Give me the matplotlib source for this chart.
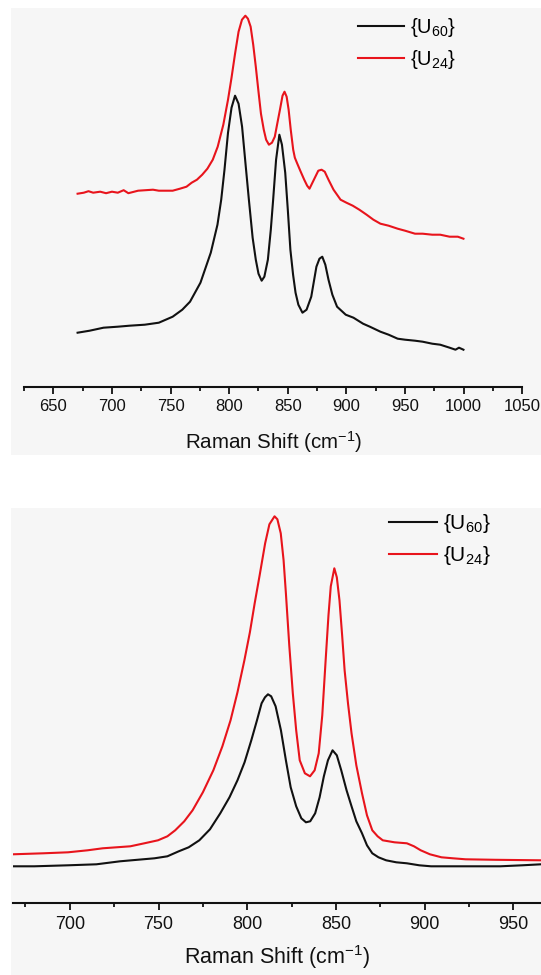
import matplotlib
matplotlib.use("Agg")
import matplotlib.pyplot as plt
from matplotlib.patches import Rectangle
from matplotlib.ticker import MultipleLocator

plt.rcParams['font.family'] = ['Liberation Sans', 'DejaVu Sans']
plt.rcParams['mathtext.fontset'] = 'custom'
plt.rcParams['mathtext.rm'] = 'Liberation Sans'
plt.rcParams['mathtext.it'] = 'Liberation Sans:italic'
plt.rcParams['mathtext.bf'] = 'Liberation Sans:bold'
plt.rcParams['mathtext.default'] = 'regular'

# ---------------- data: top panel ----------------
top_u60_x = [670.7, 681, 692.8, 705, 715, 728, 740, 751.8, 760, 766.6, 775.5, 784.3, 790, 793.2, 796, 799,
             802, 805, 808, 811, 814, 816.8, 820, 822.7, 825, 827.7, 830, 833, 835.5, 837.5, 840, 842.8,
             845, 847.8, 850, 852.2, 854.5, 856.6, 859, 862.5, 866, 870, 874.4, 877, 879.4, 882, 884.7,
             888, 892, 899.4, 906, 914.2, 920, 929, 936, 943.7, 950, 958.5, 965, 973.2, 980, 988, 993,
             996, 999.8]
top_u60_y = [54, 56, 59, 60, 61, 62, 64, 70, 77, 85, 104, 134, 162, 187, 217, 254,
             279, 291, 283, 260, 222, 187, 149, 127, 113, 106, 110, 127, 157, 187, 227, 252,
             242, 214, 177, 137, 112, 94, 82, 74, 77, 90, 120, 128, 130, 122, 107,
             92, 80, 72, 69, 63, 60, 55, 52, 48, 47, 46, 45, 43, 42, 39, 37,
             39, 37]

top_u24_x = [670.7, 676, 680, 684, 690, 695, 700, 705, 710, 714, 722.3, 735, 740, 751.8, 758, 763.6,
             768, 772.5, 777, 781.4, 786, 790.2, 795, 799, 802, 805, 808, 810.9, 813.8, 816, 818.3,
             820.5, 822.7, 825, 827.1, 829.5, 831.5, 833.9, 836.5, 838.9, 841, 843.3, 845.5, 847.2,
             849, 850.7, 852.5, 854.6, 856, 858.1, 861, 864, 866.5, 868.5, 871, 873.5, 876, 878.8,
             881.5, 884.7, 889, 895, 900, 905.4, 911, 917.2, 923, 929, 936, 943.7, 950, 958.5, 965,
             973.2, 980, 988, 995, 999.8]
top_u24_y = [193, 194, 195.5, 194, 195, 193.5, 195, 194, 196.5, 193.5, 196, 197, 196, 196, 198, 200,
             204, 207, 212, 218, 227, 240, 262, 287, 309, 333, 355, 367, 371, 368, 360,
             342, 320, 295, 273, 257, 247, 242, 244, 250, 263, 277, 291, 295,
             290, 277, 257, 237, 229, 223, 215, 207, 201, 198, 204, 210, 216, 217,
             215, 207, 197, 187, 184, 181, 177, 172, 167, 163, 161, 158, 156, 153, 153,
             152, 152, 150, 150, 148]

# ---------------- data: bottom panel ----------------
bot_u60_x = [667.8, 680, 699, 715, 728.3, 747.7, 755, 761.4, 767, 773, 779, 784.8, 790, 794.5, 798.5,
             802.3, 805.5, 808.1, 810, 811.7, 813.5, 816, 819, 821.8, 824.5, 827.6, 830.5, 833.1,
             835.5, 838.3, 840.8, 843.2, 845.5, 848.1, 850.5, 853, 856, 858.8, 861.5, 864.7, 867.5,
             870.5, 874, 878.3, 884, 890, 897, 903.6, 913, 923.1, 933, 942.6, 955, 965.6]
bot_u60_y = [37, 37, 38, 39, 42, 45, 47, 52, 56, 63, 74, 90, 106, 123, 141,
             163, 183, 200, 206, 209, 207, 197, 173, 143, 116, 97, 85, 81,
             82, 90, 106, 127, 143, 153, 148, 133, 113, 97, 82, 70, 58,
             50, 46, 43, 41, 40, 38, 37, 37, 37, 37, 37, 38, 39]

bot_u24_x = [667.8, 685, 699, 710, 718.5, 734.1, 742, 749.7, 755, 759.4, 764.5, 769.2, 775, 780.9, 786,
             790.6, 794.5, 798.4, 801.5, 804.2, 807, 810.1, 812.5, 815.4, 817, 818.9, 820.5, 821.8,
             823.7, 825.7, 827.6, 829.6, 832.5, 835.4, 838, 840.3, 842.3, 844.2, 845.8, 847.1, 849.1,
             850.5, 852, 853.5, 854.9, 856.8, 858.8, 861.5, 864.7, 867.5, 870.5, 873.5, 876.4, 883,
             890, 894, 897.8, 903, 909.5, 916, 923.1, 940, 965.6]
bot_u24_y = [49, 50, 51, 53, 55, 57, 60, 63, 67, 73, 82, 93, 111, 133, 157,
             183, 211, 243, 271, 300, 328, 360, 379, 387, 384, 370, 343, 310,
             258, 210, 173, 143, 130, 127, 133, 150, 188, 243, 288, 317, 335,
             326, 303, 268, 233, 200, 170, 138, 110, 88, 73, 67, 63, 61,
             60, 57, 53, 49, 46, 45, 44, 43.5, 43]

labels = ['{U$_{60}$}', '{U$_{24}$}']
top_ticks = [650, 700, 750, 800, 850, 900, 950, 1000, 1050]
bot_ticks = [700, 750, 800, 850, 900, 950]
xlabel = 'Raman Shift (cm$^{-1}$)'

BLACK = '#111111'
RED = '#e8141c'
BG = '#f6f6f6'

W, H = 541, 975
fig = plt.figure(figsize=(W / 100, H / 100), dpi=100, facecolor='white')

def px_rect(x0, y0, x1, y1):
    return (x0 / W, 1 - y1 / H, (x1 - x0) / W, (y1 - y0) / H)

# panel backgrounds
for (x0, y0, x1, y1) in [(11, 8, 541, 455), (11, 508, 541, 975)]:
    l, b, w, h = px_rect(x0, y0, x1, y1)
    fig.patches.append(Rectangle((l, b), w, h, transform=fig.transFigure,
                                 facecolor=BG, edgecolor='none', zorder=-10))

def style(ax, xlim, ylim, ticks, legend_anchor, tsize, lsize, gsize, labelpad):
    ax.set_facecolor('none')
    ax.set_xlim(*xlim)
    ax.set_ylim(*ylim)
    for s in ['top', 'right', 'left']:
        ax.spines[s].set_visible(False)
    ax.spines['bottom'].set_linewidth(1.5)
    ax.spines['bottom'].set_color('#111111')
    ax.set_yticks([])
    ax.set_xticks(ticks)
    ax.xaxis.set_minor_locator(MultipleLocator(25))
    ax.tick_params(axis='x', which='major', direction='out', length=5, width=1.3,
                   labelsize=tsize, pad=4, colors='#111111')
    ax.tick_params(axis='x', which='minor', direction='out', length=3, width=1.3,
                   colors='#111111')
    ax.set_xlabel(xlabel, fontsize=lsize, labelpad=labelpad, color='#111111')
    ax.legend(loc='upper left', bbox_to_anchor=legend_anchor,
              bbox_transform=fig.transFigure, frameon=False, fontsize=gsize,
              borderpad=0, borderaxespad=0, handlelength=2.3, handletextpad=0.3,
              labelspacing=0.45)

# top panel
ax1 = fig.add_axes(px_rect(24, 8, 522.3, 386.7))
ax1.plot(top_u60_x, top_u60_y, color=BLACK, lw=1.5, label=labels[0])
ax1.plot(top_u24_x, top_u24_y, color=RED, lw=1.5, label=labels[1])
style(ax1, (625, 1050), (0, 378.7), top_ticks, (358 / W, 1 - 16 / H),
      12, 14.8, 14.5, 10.5)

# bottom panel
ax2 = fig.add_axes(px_rect(12.7, 508, 541, 903.3))
ax2.plot(bot_u60_x, bot_u60_y, color=BLACK, lw=1.5, label=labels[0])
ax2.plot(bot_u24_x, bot_u24_y, color=RED, lw=1.5, label=labels[1])
style(ax2, (667.8, 965.6), (0, 395.3), bot_ticks, (389 / W, 1 - 512 / H),
      13, 15.5, 15, 7.5)

fig.savefig('out.png', dpi=100, facecolor='white')
